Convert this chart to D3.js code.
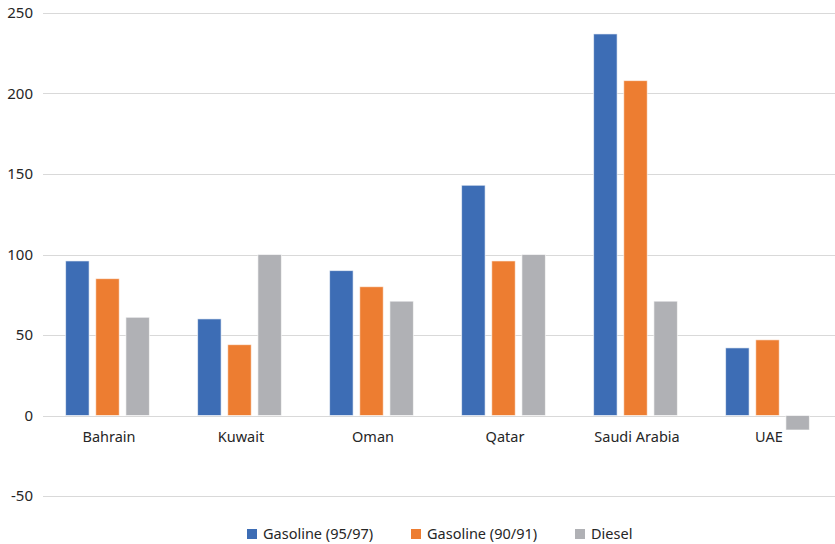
<!DOCTYPE html>
<html>
<head>
<meta charset="utf-8">
<script src="https://cdn.jsdelivr.net/npm/d3@7"></script>
<style>
  body { margin: 0; background: #fff; }
  text { font-family: "Noto Sans", "Open Sans", sans-serif; fill: #262626; }
</style>
</head>
<body>
<script>
// chart data
const countries = ["Bahrain", "Kuwait", "Oman", "Qatar", "Saudi Arabia", "UAE"];
const seriesNames = ["Gasoline (95/97)", "Gasoline (90/91)", "Diesel"];
const gas9597 = [96, 60, 90, 143, 237, 42];
const gas9091 = [85, 44, 80, 96, 208, 47];
const diesel = [61, 100, 71, 100, 71, -9];
const yTicks = [-50, 0, 50, 100, 150, 200, 250];
const colors = ["#3d6db5", "#ed7d31", "#b0b1b5"];

const allSeries = [gas9597, gas9091, diesel];
const width = 835, height = 544;
const margin = {left: 43, right: 0, top: 13, bottom: 48};

const svg = d3.select("body").append("svg")
    .attr("width", width).attr("height", height);

const x = d3.scaleBand()
    .domain(countries)
    .range([margin.left, width - margin.right])
    .paddingInner(0).paddingOuter(0);

const y = d3.scaleLinear()
    .domain([-50, 250])
    .range([height - margin.bottom, margin.top]);

// gridlines
svg.append("g").selectAll("line")
    .data(yTicks)
    .enter().append("line")
    .attr("x1", margin.left).attr("x2", width - margin.right)
    .attr("y1", d => Math.round(y(d)) + 0.5).attr("y2", d => Math.round(y(d)) + 0.5)
    .attr("stroke", "#d9d9d9").attr("stroke-width", 1);

// y labels
svg.append("g").selectAll("text")
    .data(yTicks)
    .enter().append("text")
    .attr("x", 33).attr("y", d => y(d) + 5)
    .attr("text-anchor", "end")
    .attr("font-size", "15px")
    .text(d => d);

// bars
const inner = d3.scaleBand()
    .domain(d3.range(seriesNames.length))
    .range([0, x.bandwidth()])
    .paddingInner(0.22).paddingOuter(0.8);

allSeries.forEach((vals, si) => {
  svg.append("g").selectAll("rect")
    .data(vals)
    .enter().append("rect")
    .attr("x", (d, i) => x(countries[i]) + inner(si) - 1.5)
    .attr("width", inner.bandwidth())
    .attr("y", d => y(Math.max(0, d)))
    .attr("height", d => Math.abs(y(d) - y(0)))
    .attr("fill", colors[si])
    .attr("stroke", "#fff").attr("stroke-opacity", 0.6).attr("stroke-width", 1);
});

// x labels
svg.append("g").selectAll("text")
    .data(countries)
    .enter().append("text")
    .attr("x", d => x(d) + x.bandwidth() / 2)
    .attr("y", y(0) + 26)
    .attr("text-anchor", "middle")
    .attr("font-size", "14.5px")
    .text(d => d);

// legend
const legendX = [247, 411, 575];
const legend = svg.append("g").selectAll("g")
    .data(seriesNames)
    .enter().append("g")
    .attr("transform", (d, i) => "translate(" + legendX[i] + ",529)");
legend.append("rect")
    .attr("width", 10).attr("height", 10)
    .attr("fill", (d, i) => colors[i]);
legend.append("text")
    .attr("x", 16).attr("y", 10)
    .attr("font-size", "14.5px")
    .text(d => d);
</script>
</body>
</html>
